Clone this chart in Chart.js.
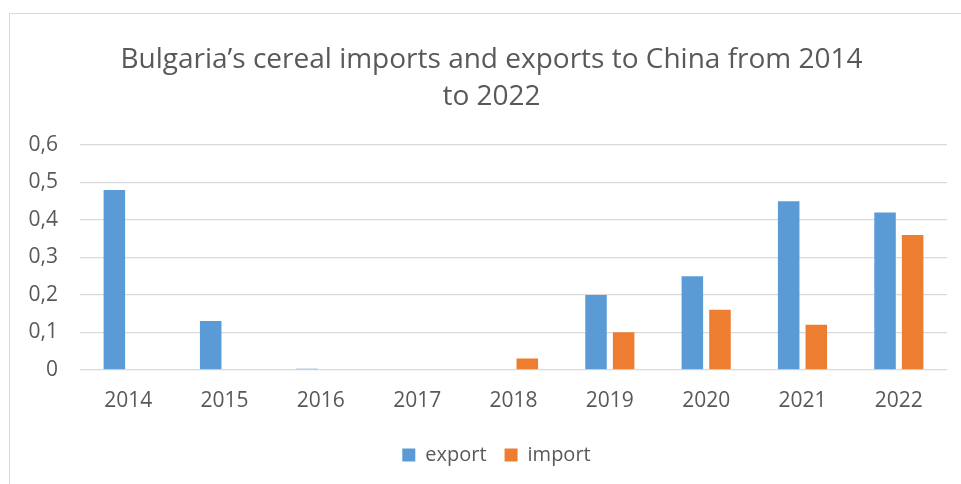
<!DOCTYPE html>
<html>
<head>
<meta charset="utf-8">
<script src="https://cdn.jsdelivr.net/npm/chart.js@4"></script>
<style>
  html, body { margin: 0; padding: 0; background: #fff; }
  #frame { position: absolute; left: 9px; top: 13px; width: 1000px; height: 600px; border: 1px solid #d9d9d9; }
  #wrap { position: absolute; left: 0; top: 0; width: 961px; height: 484px; }
</style>
</head>
<body>
<div id="frame"></div>
<div id="wrap"><canvas id="myChart"></canvas></div>
<script>
// values
const years = ['2014', '2015', '2016', '2017', '2018', '2019', '2020', '2021', '2022'];
const exportValues = [0.48, 0.13, 0.003, 0, 0, 0.2, 0.25, 0.45, 0.42];
const importValues = [0, 0, 0, 0, 0.03, 0.1, 0.16, 0.12, 0.36];
const titleLines = ['Bulgaria\u2019s cereal imports and exports to China from 2014', 'to 2022'];

const textColor = '#595959';
const fontFamily = "'Open Sans', sans-serif";

// the original chart box is wider than the crop, so title and legend sit a bit right of the plot centre
const shiftBoxes = {
  id: 'shiftBoxes',
  afterLayout(chart) {
    chart.titleBlock.left += 13;
    chart.titleBlock.right += 13;
    chart.legend.left += 18;
    chart.legend.right += 18;
  }
};

const data = {
  labels: years,
  datasets: [{
    label: 'export',
    data: exportValues,
    backgroundColor: '#5b9bd5'
  }, {
    label: 'import',
    data: importValues,
    backgroundColor: '#ed7d31'
  }]
};

const config = {
  type: 'bar',
  data,
  plugins: [shiftBoxes],
  options: {
    responsive: true,
    maintainAspectRatio: false,
    animation: false,
    categoryPercentage: 0.573,
    barPercentage: 0.78,
    layout: { padding: { left: 10, right: 14, top: 0, bottom: 9 } },
    scales: {
      x: {
        grid: { display: false, drawTicks: false },
        border: { display: false },
        ticks: { color: textColor, font: { family: fontFamily, size: 21 }, padding: 19 },
        afterFit: scale => { scale.height -= 6; }
      },
      y: {
        min: 0,
        max: 0.6,
        grid: { color: '#d9d9d9', lineWidth: 1.3, drawTicks: false },
        border: { display: false },
        ticks: {
          stepSize: 0.1,
          color: textColor,
          font: { family: fontFamily, size: 21 },
          padding: 22,
          callback: v => v === 0 ? '0' : v.toFixed(1).replace('.', ',')
        },
        afterFit: scale => { scale.width = 70; }
      }
    },
    plugins: {
      title: {
        display: true,
        text: titleLines,
        color: textColor,
        font: { family: fontFamily, size: 28, weight: 'normal', lineHeight: 1.34 },
        padding: { top: 41, bottom: 29 }
      },
      legend: {
        position: 'bottom',
        labels: {
          color: textColor,
          font: { family: fontFamily, size: 20 },
          boxWidth: 13,
          boxHeight: 13,
          padding: 18
        }
      },
      tooltip: { enabled: false }
    }
  }
};

const myChart = new Chart(document.getElementById('myChart'), config);
</script>
</body>
</html>
